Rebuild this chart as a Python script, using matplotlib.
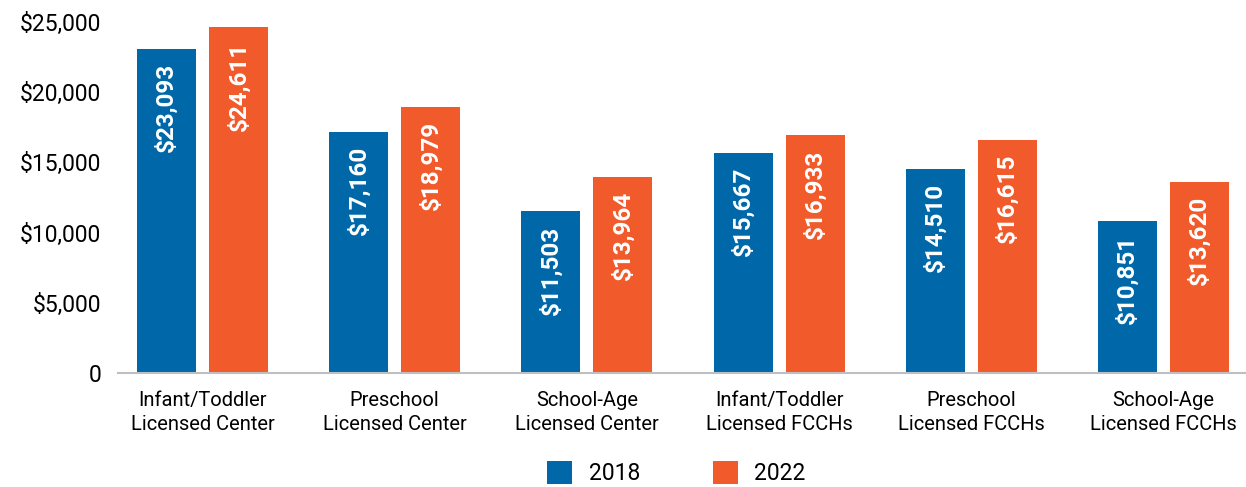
import matplotlib.pyplot as plt
import numpy as np

categories = ['Infant/Toddler\nLicensed Center', 'Preschool\nLicensed Center',
              'School-Age\nLicensed Center', 'Infant/Toddler\nLicensed FCCHs',
              'Preschool\nLicensed FCCHs', 'School-Age\nLicensed FCCHs']
cost_2018 = [23093, 17160, 11503, 15667, 14510, 10851]
cost_2022 = [24611, 18979, 13964, 16933, 16615, 13620]
yticks = [0, 5000, 10000, 15000, 20000, 25000]
ytick_labels = ['0', '$5,000', '$10,000', '$15,000', '$20,000', '$25,000']

blue = '#0068A8'
orange = '#F15A2B'

plt.rcParams['font.family'] = ['Roboto', 'DejaVu Sans']

fig = plt.figure(figsize=(12.46, 4.87), dpi=100)
ax = fig.add_axes([118 / 1246, 1 - 373 / 487, 1128 / 1246, 351 / 487])

x = np.arange(len(categories))
width = 0.307
offset = 0.1875
b1 = ax.bar(x - offset, cost_2018, width, color=blue, label='2018')
b2 = ax.bar(x + offset, cost_2022, width, color=orange, label='2022')

# value labels inside the bars, reading upwards
for bars, vals in [(b1, cost_2018), (b2, cost_2022)]:
    for bar, v in zip(bars, vals):
        ax.text(bar.get_x() + bar.get_width() / 2, v - 1000, f'${v:,}',
                rotation=90, ha='center', va='top', color='white',
                fontsize=17.5, fontweight='bold')

ax.set_xlim(-0.44, 5.43)
ax.set_ylim(0, 25000)
ax.set_yticks(yticks)
ax.set_yticklabels(ytick_labels, fontsize=16.5)
ax.set_xticks(x)
ax.set_xticklabels(categories, fontsize=14.5, linespacing=1.3)
ax.tick_params(axis='both', length=0)
ax.tick_params(axis='y', pad=12)
ax.tick_params(axis='x', pad=13)

for side in ['top', 'right', 'left']:
    ax.spines[side].set_visible(False)
ax.spines['bottom'].set_color('#BFBFBF')
ax.spines['bottom'].set_linewidth(1.5)

fig.legend(handles=[b1, b2], loc='center', bbox_to_anchor=(0.543, 1 - 473 / 487),
           ncol=2, frameon=False, fontsize=16.5, handlelength=1.1, handleheight=1.15,
           columnspacing=3.2, handletextpad=0.7)

fig.savefig('out.png', dpi=100)
